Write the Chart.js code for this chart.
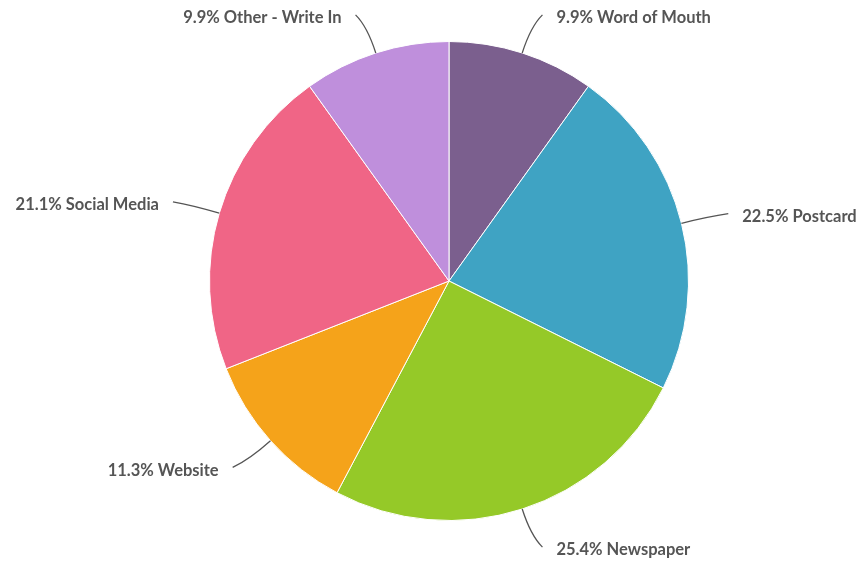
<!DOCTYPE html>
<html>
<head>
<meta charset="utf-8">
<script src="https://cdn.jsdelivr.net/npm/chart.js@4.4.0/dist/chart.umd.min.js"></script>
<style>
  html, body { margin: 0; padding: 0; background: #fff; }
  #wrap { width: 859px; height: 561px; }
</style>
</head>
<body>
<div id="wrap"><canvas id="pie"></canvas></div>
<script>
// Chart data
const categories = ['Word of Mouth', 'Postcard', 'Newspaper', 'Website', 'Social Media', 'Other - Write In'];
const percents = [9.9, 22.5, 25.4, 11.3, 21.1, 9.9];
const sliceColors = ['#7b5f8e', '#3fa3c3', '#95c928', '#f5a31a', '#f06586', '#bf8fdc'];

// draws the outside labels with curved leader lines
const calloutLabels = {
    id: 'calloutLabels',
    afterDatasetsDraw(chart) {
        const ctx = chart.ctx;
        const meta = chart.getDatasetMeta(0);
        ctx.save();
        ctx.font = 'bold 16.5px Lato, sans-serif';
        ctx.textBaseline = 'middle';
        meta.data.forEach((arc, i) => {
            const mid = (arc.startAngle + arc.endAngle) / 2;
            const r = arc.outerRadius;
            const cx = arc.x, cy = arc.y;
            const cos = Math.cos(mid), sin = Math.sin(mid);
            const right = cos >= 0;
            const sx = cx + cos * r, sy = cy + sin * r;
            const kx = cx + cos * (r + 28), ky = cy + sin * (r + 28);
            const ex = cx + cos * (r + 40) + (right ? 8 : -8);
            const ey = cy + sin * (r + 40);
            ctx.strokeStyle = '#555';
            ctx.lineWidth = 1.3;
            ctx.beginPath();
            ctx.moveTo(sx, sy);
            ctx.quadraticCurveTo(kx, ky, ex, ey);
            ctx.stroke();
            ctx.fillStyle = '#555555';
            ctx.textAlign = right ? 'left' : 'right';
            ctx.fillText(percents[i].toFixed(1) + '% ' + categories[i], ex + (right ? 14 : -14), ey + 3);
        });
        ctx.restore();
    }
};

new Chart(document.getElementById('pie'), {
    type: 'pie',
    data: {
        labels: categories,
        datasets: [{
            data: percents,
            backgroundColor: sliceColors,
            borderColor: '#ffffff',
            borderWidth: 1
        }]
    },
    options: {
        responsive: true,
        maintainAspectRatio: false,
        animation: false,
        layout: { padding: { top: 41, bottom: 40, left: 209, right: 170 } },
        plugins: {
            legend: { display: false },
            tooltip: { enabled: false }
        }
    },
    plugins: [calloutLabels]
});
</script>
</body>
</html>
